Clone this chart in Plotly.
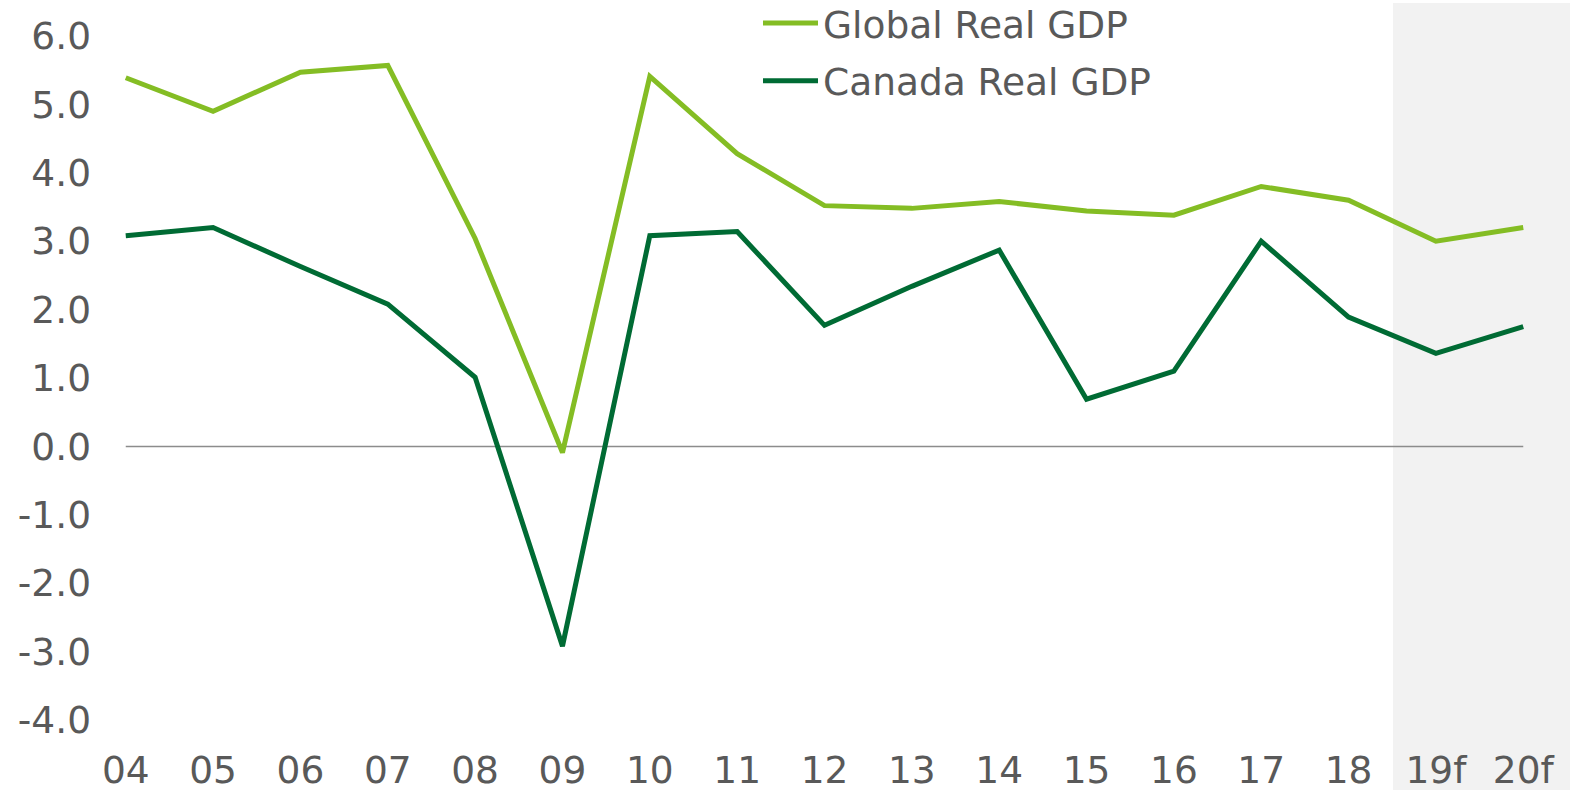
import plotly.graph_objects as go

years = ["04", "05", "06", "07", "08", "09", "10", "11", "12", "13", "14", "15", "16", "17", "18", "19f", "20f"]
global_gdp = [5.39, 4.90, 5.47, 5.57, 3.04, -0.09, 5.41, 4.28, 3.52, 3.48, 3.58, 3.44, 3.38, 3.80, 3.60, 3.00, 3.20]
canada_gdp = [3.08, 3.20, 2.63, 2.08, 1.01, -2.92, 3.08, 3.14, 1.77, 2.34, 2.87, 0.69, 1.10, 3.00, 1.89, 1.36, 1.75]
y_ticks = [6, 5, 4, 3, 2, 1, 0, -1, -2, -3, -4]

W, H = 1570, 790
L, R, T, B = 124, 45, 0, 70
pw = W - L - R
ph = H - T - B
px_per_unit = 68.4
y_top = 6 + 36 / px_per_unit  # headroom above 6.0 for the legend

xs = list(range(len(years)))
fnt = dict(family="DejaVu Sans, Verdana, sans-serif", size=37.5, color="#595959")

fig = go.Figure()
fig.add_trace(go.Scatter(x=xs, y=global_gdp, mode="lines", name="Global Real GDP",
                         legendgroup="g", line=dict(color="#84BD24", width=5)))
fig.add_trace(go.Scatter(x=xs, y=canada_gdp, mode="lines", name="Canada Real GDP",
                         legendgroup="c", line=dict(color="#006B34", width=5)))

# forecast shading
fig.add_shape(type="rect", xref="paper", yref="paper",
              x0=(1393 - L) / pw, x1=(W - L) / pw + 0.01,
              y0=-B / ph - 0.01, y1=(ph - 3) / ph,
              fillcolor="#F2F2F2", line=dict(width=0), layer="below")
# zero line
fig.add_shape(type="line", xref="x", yref="y", x0=0, x1=len(years) - 1, y0=0, y1=0,
              line=dict(color="#8C8C8C", width=1.5), layer="below")

fig.update_layout(
    width=W, height=H,
    margin=dict(l=L, r=R, t=T, b=B, pad=0, autoexpand=False),
    paper_bgcolor="white", plot_bgcolor="rgba(0,0,0,0)",
    font=fnt,
    showlegend=True,
    legend=dict(x=(758 - L) / pw, y=1 + 8 / ph, xanchor="left", yanchor="top",
                bgcolor="rgba(0,0,0,0)", font=fnt, itemwidth=55, tracegroupgap=6),
    xaxis=dict(range=[-0.02, len(years) - 1 + 0.02], tickvals=xs, ticktext=years,
               showgrid=False, zeroline=False, showline=False, ticks="",
               ticklabelstandoff=24, tickfont=fnt, automargin=False),
    yaxis=dict(range=[-4, y_top], tickvals=y_ticks, ticktext=[f"{v:.1f}" for v in y_ticks],
               showgrid=False, zeroline=False, showline=False, ticks="",
               ticklabelstandoff=32, tickfont=fnt, automargin=False),
)

fig.write_html("out.html", config={"displayModeBar": False},
               post_script="document.body.style.margin='0px';")
